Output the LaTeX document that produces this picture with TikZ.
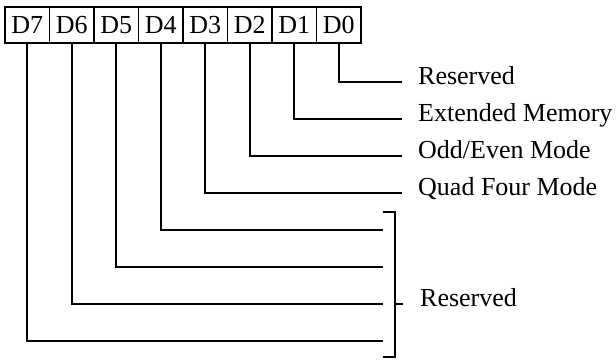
\documentclass[tikz,border=0pt]{standalone}
\usepackage{fontspec}
\setmainfont{Liberation Serif}
\usepackage{tikz}
\usetikzlibrary{positioning}

\begin{document}
\begin{tikzpicture}[
    x=1pt, y=-1pt,
    bitbox/.style={rectangle, draw=black, line width=1.8pt, minimum width=44.5pt, minimum height=36pt, inner sep=0pt, outer sep=0pt},
    wire/.style={draw=black, line width=1.8pt},
    lbl/.style={inner sep=0pt, anchor=mid west},
    every node/.style={font=\fontsize{26}{30}\selectfont}
]
\useasboundingbox (0,0) rectangle (616,359);

% Register bits
\node[bitbox] (d7) at (27.25,25) {D7};
\node[bitbox] (d6) [right=0pt of d7] {D6};
\node[bitbox] (d5) [right=0pt of d6] {D5};
\node[bitbox] (d4) [right=0pt of d5] {D4};
\node[bitbox] (d3) [right=0pt of d4] {D3};
\node[bitbox] (d2) [right=0pt of d3] {D2};
\node[bitbox] (d1) [right=0pt of d2] {D1};
\node[bitbox] (d0) [right=0pt of d1] {D0};

% Line ends
\coordinate (e0) at (402,82);
\coordinate (e1) at (402,119);
\coordinate (e2) at (402,156);
\coordinate (e3) at (402,193);
\coordinate (e4) at (383,230);
\coordinate (e5) at (383,267);
\coordinate (e6) at (383,304);
\coordinate (e7) at (383,341);

% Bit labels
\node[lbl] (res_low) at ([xshift=16pt]e0) {Reserved};
\node[lbl] (ext_mem) at ([xshift=16pt]e1) {Extended Memory};
\node[lbl] (odd_even) at ([xshift=16pt]e2) {Odd/Even Mode};
\node[lbl] (quad_four) at ([xshift=16pt]e3) {Quad Four Mode};

% Bracket for D4--D7
\coordinate (brk_top) at (383,212);
\coordinate (brk_bot) at (383,357);
\coordinate (brk_mid) at (395,304);
\node[lbl] (res_high) at ([xshift=25pt]brk_mid) {Reserved};

% Connections
\draw[wire] (d0.south) |- (e0);
\draw[wire] (d1.south) |- (e1);
\draw[wire] (d2.south) |- (e2);
\draw[wire] (d3.south) |- (e3);
\draw[wire] (d4.south) |- (e4);
\draw[wire] (d5.south) |- (e5);
\draw[wire] (d6.south) |- (e6);
\draw[wire] (d7.south) |- (e7);
\draw[wire] (brk_top) -- ++(12,0) |- (brk_bot);
\draw[wire] (brk_mid) -- ++(8,0);

\end{tikzpicture}
\end{document}
